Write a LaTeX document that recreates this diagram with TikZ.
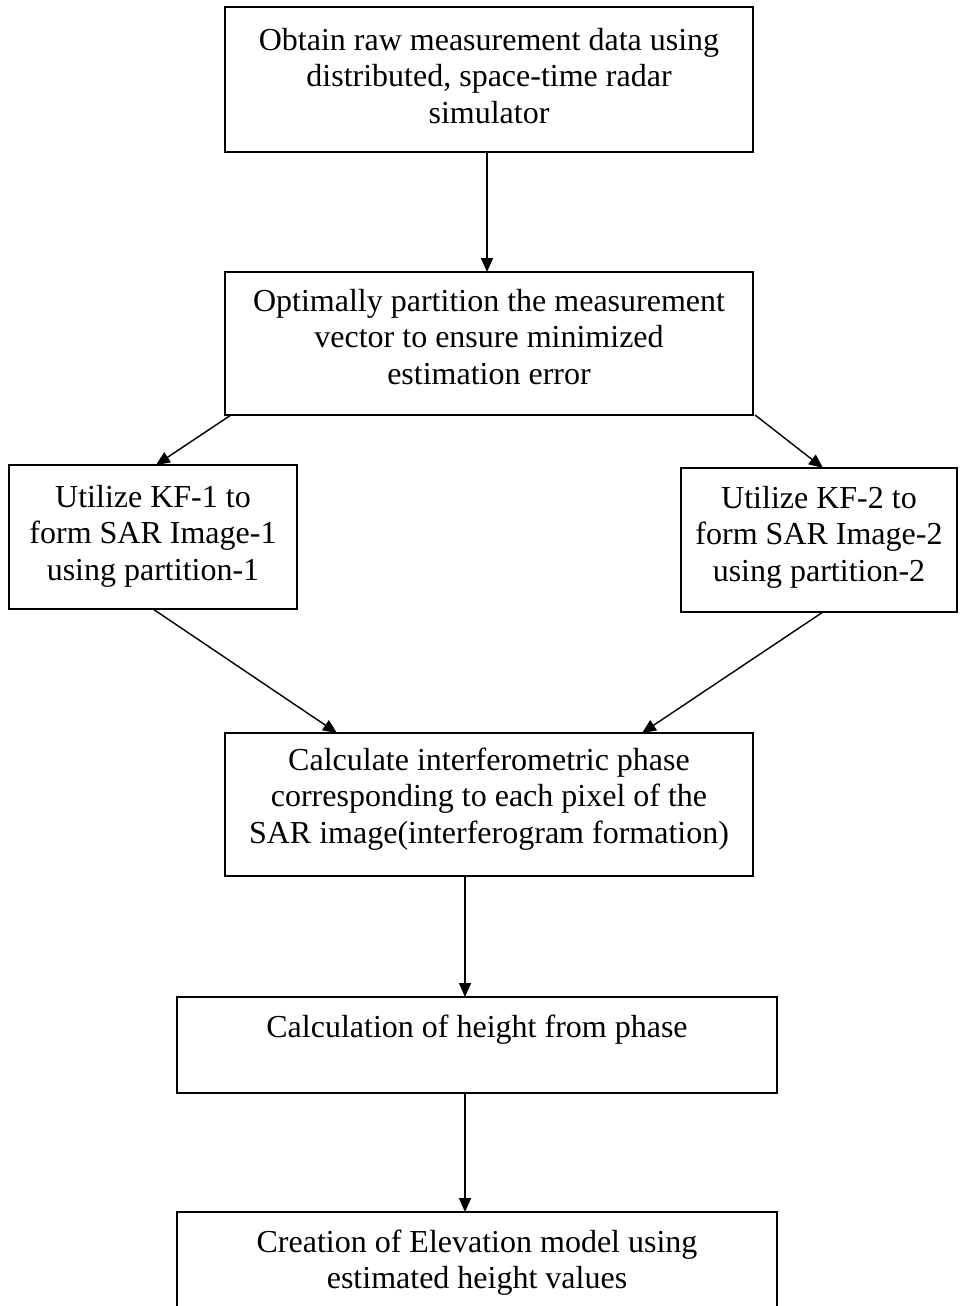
\documentclass[tikz,border=0pt]{standalone}
\usepackage{fontspec}
\setmainfont{Liberation Serif}
\usetikzlibrary{arrows.meta,calc}
\tikzset{
  box/.style={draw, line width=1.9pt, inner sep=0pt, outer sep=0pt},
  txt/.style={align=center, anchor=base, inner sep=0pt, font=\fontsize{32}{36.8}\selectfont},
  conn/.style={line width=1.4pt, -{Triangle[length=14pt,width=12pt]}}
}
\begin{document}
\begin{tikzpicture}[x=1pt,y=1pt]
\clip (0,0) rectangle (959,-1306);
% boxes
\node[box, minimum width=528, minimum height=145] (b1) at (489,-79.5) {};
\node[box, minimum width=528, minimum height=143] (b2) at (489,-343.5) {};
\node[box, minimum width=288, minimum height=144] (b3) at (153,-537) {};
\node[box, minimum width=276, minimum height=144] (b4) at (819,-540) {};
\node[box, minimum width=528, minimum height=143] (b5) at (489,-804.5) {};
\node[box, minimum width=600, minimum height=96] (b6) at (477,-1045) {};
\node[box, minimum width=600, minimum height=128] (b7) at (477,-1276) {};
% texts (anchor base = last line)
\node[txt] (t1) at ($(b1.north)+(0,-116.6)$) {Obtain raw measurement data using\\distributed, space-time radar\\simulator};
\node[txt] (t2) at ($(b2.north)+(0,-112.6)$) {Optimally partition the measurement\\vector to ensure minimized\\estimation error};
\node[txt] (t3) at ($(b3.north)+(0,-115.6)$) {Utilize KF-1 to\\form SAR Image-1\\using partition-1};
\node[txt] (t4) at ($(b4.north)+(0,-113.6)$) {Utilize KF-2 to\\form SAR Image-2\\using partition-2};
\node[txt] (t5) at ($(b5.north)+(0,-110.6)$) {Calculate interferometric phase\\corresponding to each pixel of the\\SAR image(interferogram formation)};
\node[txt] (t6) at ($(b6.north)+(0,-40)$) {Calculation of height from phase};
\node[txt] (t7) at ($(b7.north)+(0,-76.8)$) {Creation of Elevation model using\\estimated height values};
% connectors
\draw[conn] ($(b1.south west)+(262,0)$) -- ($(b2.north west)+(262,0)$);
\draw[conn] ($(b2.south west)+(6,0)$) -- ($(b3.north west)+(147,0)$);
\draw[conn] ($(b2.south east)+(2,0)$) -- ($(b4.north west)+(142,0)$);
\draw[conn] ($(b3.south west)+(144,0)$) -- ($(b5.north west)+(112,0)$);
\draw[conn] ($(b4.south west)+(142,0)$) -- ($(b5.north west)+(417,0)$);
\draw[conn] ($(b5.south west)+(240,0)$) -- ($(b6.north west)+(288,0)$);
\draw[conn] ($(b6.south west)+(288,0)$) -- ($(b7.north west)+(288,0)$);
\end{tikzpicture}
\end{document}
